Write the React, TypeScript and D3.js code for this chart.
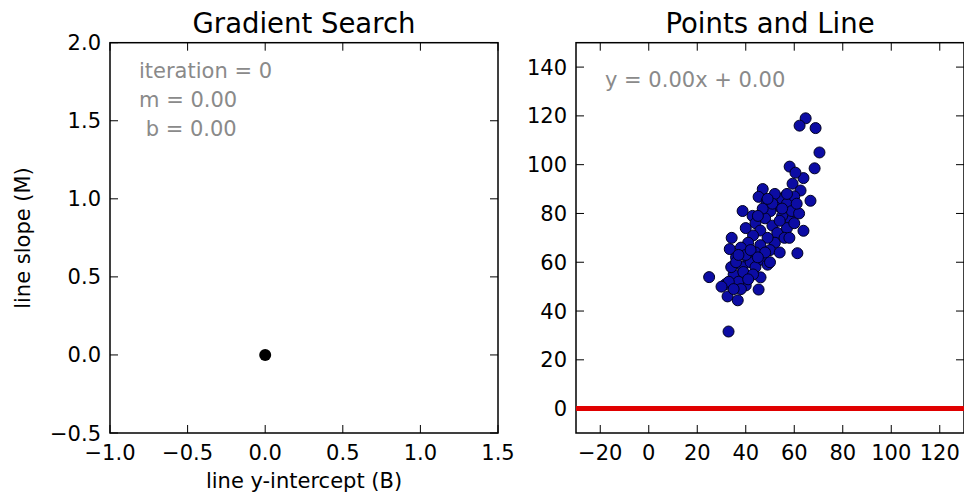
import React, { useEffect, useRef } from 'react'
import * as d3 from 'd3'

// left panel: current gradient search position (b, m)
const searchB = [0.0]
const searchM = [0.0]
const iteration = 0

// right panel: data points [x, y]
const pointsX = [
  64.7, 62.2, 68.8, 70.4, 68.4, 63.8, 58.1, 60.5, 59.3, 62.6, 66.7, 56.4, 47, 45.3, 48.6, 53.5, 55, 52, 57, 60,
  38.7, 42.8, 50.2, 58.5, 63.8, 61.3, 34.2, 33.4, 44, 46, 48, 51, 53, 55, 57, 59, 52, 49, 46, 43,
  41, 40, 44, 50, 54, 56, 60, 62, 47, 54, 38, 36, 41, 45, 51, 49, 58, 61, 55, 57,
  24.9, 32.5, 32.9, 36.7, 40, 38.7, 31.7, 45.3, 46.1, 35, 37, 39, 42, 44, 40, 34, 36, 43, 41, 38,
  47, 49, 48, 33, 35, 42, 45, 37, 30, 50
]
const pointsY = [
  119, 116, 115, 105, 98.5, 94.5, 99.2, 96.7, 92.2, 89.4, 85.2, 87.2, 90, 86.8, 85, 83, 86, 88, 84, 87,
  81, 79, 81, 77, 72.9, 63.7, 70, 65.4, 76, 73, 78, 75, 72, 79, 74, 81, 68, 70, 67, 71,
  68, 74, 64, 65, 64, 70, 76, 80, 82, 77, 66, 62, 61, 79, 84, 86, 70, 84, 82, 88,
  53.9, 46, 31.6, 44.4, 50.5, 58, 51, 48.8, 53.8, 55, 52, 56, 60, 58, 63, 58, 60, 55, 53, 49,
  61, 59, 64, 52, 49, 65, 62, 63, 50, 60
]
const lineM = 0.0
const lineB = 0.0

const leftXTicks = [-1.0, -0.5, 0.0, 0.5, 1.0, 1.5]
const leftYTicks = [-0.5, 0.0, 0.5, 1.0, 1.5, 2.0]
const rightXTicks = [-20, 0, 20, 40, 60, 80, 100, 120]
const rightYTicks = [0, 20, 40, 60, 80, 100, 120, 140]

const FONT = 'DejaVu Sans'

export default function App() {
  const ref = useRef<SVGSVGElement>(null)

  useEffect(() => {
    const svg = d3.select(ref.current)
    svg.selectAll('*').remove()

    const top = 42.7, bottom = 433

    //draws frame, inside ticks on all four sides and tick labels
    function frame(x, y, xticks, yticks, fmtX, fmtY) {
      const g = svg.append('g')
      const [x0, x1] = x.range()
      g.append('rect')
        .attr('x', x0).attr('y', top)
        .attr('width', x1 - x0).attr('height', bottom - top)
        .attr('fill', 'none').attr('stroke', '#000').attr('stroke-width', 1.5)

      xticks.forEach(t => {
        const px = x(t)
        g.append('line').attr('x1', px).attr('x2', px).attr('y1', bottom).attr('y2', bottom - 8).attr('stroke', '#000')
        g.append('line').attr('x1', px).attr('x2', px).attr('y1', top).attr('y2', top + 8).attr('stroke', '#000')
        g.append('text').attr('x', px).attr('y', bottom + 27)
          .attr('text-anchor', 'middle').attr('font-family', FONT).attr('font-size', 21)
          .text(fmtX(t))
      })
      yticks.forEach(t => {
        const py = y(t)
        g.append('line').attr('x1', x0).attr('x2', x0 + 8).attr('y1', py).attr('y2', py).attr('stroke', '#000')
        g.append('line').attr('x1', x1).attr('x2', x1 - 8).attr('y1', py).attr('y2', py).attr('stroke', '#000')
        g.append('text').attr('x', x0 - 9).attr('y', py + 7.5)
          .attr('text-anchor', 'end').attr('font-family', FONT).attr('font-size', 21)
          .text(fmtY(t))
      })
      return g
    }

    // ---- left: Gradient Search
    const lx = d3.scaleLinear().domain([-1, 1.5]).range([110, 498])
    const ly = d3.scaleLinear().domain([-0.5, 2.0]).range([bottom, top])
    const left = frame(lx, ly, leftXTicks, leftYTicks, d3.format('.1f'), d3.format('.1f'))

    left.selectAll('.pos')
      .data(searchB.map((b, i) => [b, searchM[i]]))
      .enter().append('circle')
      .attr('cx', d => lx(d[0])).attr('cy', d => ly(d[1]))
      .attr('r', 6).attr('fill', '#000')

    const info = [`iteration = ${iteration}`, `m = ${lineM.toFixed(2)}`, `\u00a0b = ${lineB.toFixed(2)}`]
    info.forEach((s, i) => {
      left.append('text').attr('x', 139).attr('y', 78 + i * 29)
        .attr('font-family', FONT).attr('font-size', 21).attr('fill', '#8a8a8a')
        .text(s)
    })

    svg.append('text').attr('x', 304).attr('y', 33).attr('text-anchor', 'middle')
      .attr('font-family', FONT).attr('font-size', 27.5).text('Gradient Search')
    svg.append('text').attr('x', 304).attr('y', 488).attr('text-anchor', 'middle')
      .attr('font-family', FONT).attr('font-size', 21).text('line y-intercept (B)')
    svg.append('text').attr('transform', 'translate(30,238) rotate(-90)').attr('text-anchor', 'middle')
      .attr('font-family', FONT).attr('font-size', 21).text('line slope (M)')

    // ---- right: Points and Line
    const rx = d3.scaleLinear().domain([-30, 130]).range([576, 964])
    const ry = d3.scaleLinear().domain([-10, 150]).range([bottom, top])
    const right = frame(rx, ry, rightXTicks, rightYTicks, d3.format('d'), d3.format('d'))

    svg.append('clipPath').attr('id', 'rclip').append('rect')
      .attr('x', 576).attr('y', top).attr('width', 388).attr('height', bottom - top)

    const line = d3.line<number>().x(d => rx(d)).y(d => ry(lineM * d + lineB))
    right.append('path').datum(rx.domain())
      .attr('d', line).attr('stroke', '#e00000').attr('stroke-width', 5).attr('fill', 'none')
      .attr('clip-path', 'url(#rclip)')

    right.selectAll('.pt')
      .data(pointsX.map((x, i) => [x, pointsY[i]]))
      .enter().append('circle')
      .attr('cx', d => rx(d[0])).attr('cy', d => ry(d[1]))
      .attr('r', 5.5).attr('fill', '#0c0ca4').attr('stroke', '#000020').attr('stroke-width', 1)

    right.append('text').attr('x', 605).attr('y', 87)
      .attr('font-family', FONT).attr('font-size', 21).attr('fill', '#8a8a8a')
      .text(`y = ${lineM.toFixed(2)}x + ${lineB.toFixed(2)}`)

    svg.append('text').attr('x', 770).attr('y', 33).attr('text-anchor', 'middle')
      .attr('font-family', FONT).attr('font-size', 27.5).text('Points and Line')
  }, [])

  return (
    <svg ref={ref} width={964} height={499}
      style={{ position: 'absolute', left: 0, top: 0, background: '#fff' }} />
  )
}
